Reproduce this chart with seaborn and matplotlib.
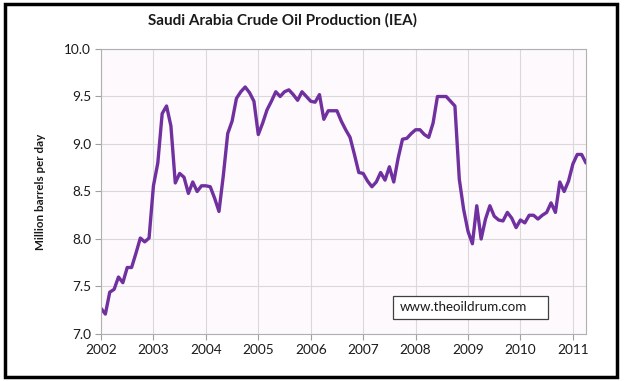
import numpy as np
import pandas as pd
import matplotlib
matplotlib.use("Agg")
import matplotlib.pyplot as plt
import seaborn as sns
from matplotlib.patches import Rectangle

start_year = 2002
production = [
    # 2002
    7.27, 7.21, 7.44, 7.47, 7.60, 7.54, 7.70, 7.70, 7.85, 8.01, 7.97, 8.01,
    # 2003
    8.56, 8.80, 9.32, 9.40, 9.19, 8.59, 8.69, 8.65, 8.48, 8.60, 8.50, 8.56,
    # 2004
    8.56, 8.55, 8.43, 8.29, 8.67, 9.11, 9.24, 9.48, 9.55, 9.60, 9.54, 9.45,
    # 2005
    9.10, 9.22, 9.36, 9.45, 9.55, 9.50, 9.55, 9.57, 9.52, 9.46, 9.55, 9.50,
    # 2006
    9.45, 9.44, 9.52, 9.26, 9.35, 9.35, 9.35, 9.24, 9.15, 9.07, 8.89, 8.70,
    # 2007
    8.69, 8.61, 8.55, 8.60, 8.70, 8.62, 8.76, 8.60, 8.85, 9.05, 9.06, 9.11,
    # 2008
    9.15, 9.15, 9.10, 9.07, 9.22, 9.50, 9.50, 9.50, 9.45, 9.40, 8.63, 8.31,
    # 2009
    8.08, 7.95, 8.35, 8.00, 8.21, 8.35, 8.24, 8.20, 8.19, 8.28, 8.22, 8.12,
    # 2010
    8.20, 8.17, 8.25, 8.25, 8.21, 8.25, 8.28, 8.38, 8.28, 8.60, 8.50, 8.61,
    # 2011
    8.79, 8.89, 8.89, 8.80,
]
year_ticks = list(range(2002, 2012))
y_ticks = [7.0, 7.5, 8.0, 8.5, 9.0, 9.5, 10.0]
title = "Saudi Arabia Crude Oil Production (IEA)"
ylabel = "Million barrels per day"
watermark = "www.theoildrum.com"

months = np.arange(len(production))
df = pd.DataFrame({"date": start_year + months / 12.0, "value": production})

sns.set_theme(style="whitegrid")
plt.rcParams["font.family"] = ["Lato", "DejaVu Sans"]

fig = plt.figure(figsize=(6.25, 3.81), dpi=100)
ax = fig.add_axes([101 / 625, 1 - 334 / 381, (586 - 101) / 625, (334 - 49) / 381])
ax.set_facecolor("#fdf9fd")

sns.lineplot(data=df, x="date", y="value", ax=ax, color="#7030a0", linewidth=2.4)

ax.set_xlim(2002, 2011.25)
ax.set_ylim(7.0, 10.0)
ax.set_xticks(year_ticks)
ax.set_xticklabels([str(y) for y in year_ticks])
ax.set_yticks(y_ticks)
ax.set_yticklabels([f"{v:.1f}" for v in y_ticks])
ax.grid(True, color="#d9d9d9", linewidth=0.8)
ax.tick_params(axis="both", which="both", length=4, width=0.8, color="#a0a0a0",
               labelsize=9.8, labelcolor="#1a1a1a", pad=3)
ax.tick_params(axis="x", bottom=True, direction="out")
ax.tick_params(axis="y", left=True, direction="out")
for s in ax.spines.values():
    s.set_color("#b0b0b0")
    s.set_linewidth(0.8)

ax.set_xlabel("")
ax.set_ylabel(ylabel, fontsize=8.4, fontweight="bold", color="#1a1a1a", labelpad=13)
fig.text(282 / 625, 1 - 20 / 381, title, ha="center", va="center",
         fontsize=11, fontweight="bold", color="#1a1a1a")

ax.add_patch(Rectangle((0.602, 0.0526), 0.32, 0.0804, transform=ax.transAxes,
                       facecolor="white", edgecolor="#404040", linewidth=0.9, zorder=5))
ax.text(0.616, 0.093, watermark, transform=ax.transAxes, ha="left", va="center",
        fontsize=9.6, color="#1a1a1a", zorder=6)

fig.patches.append(Rectangle((5 / 625, 1 - 377 / 381), (617 - 5) / 625, (377 - 4) / 381,
                             transform=fig.transFigure, fill=False, edgecolor="black",
                             linewidth=2.5))

fig.savefig("out.png", dpi=100)
